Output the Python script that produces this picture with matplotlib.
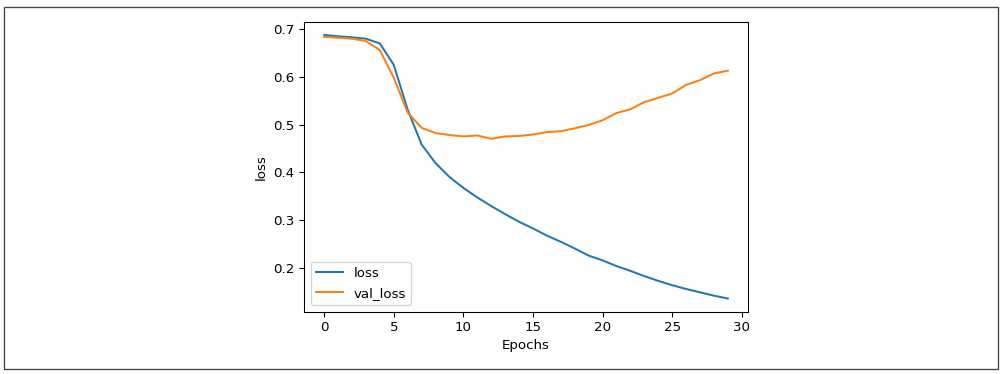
import numpy as np
import matplotlib
matplotlib.use("Agg")
import matplotlib.pyplot as plt
from matplotlib.patches import Rectangle

epochs = np.arange(30)
loss = [0.688, 0.685, 0.683, 0.680, 0.670, 0.625, 0.531, 0.458, 0.419, 0.390,
        0.367, 0.347, 0.329, 0.312, 0.296, 0.282, 0.267, 0.254, 0.240, 0.225,
        0.215, 0.203, 0.193, 0.182, 0.172, 0.163, 0.155, 0.148, 0.141, 0.135]
val_loss = [0.684, 0.682, 0.680, 0.675, 0.656, 0.598, 0.525, 0.493, 0.482, 0.478,
            0.475, 0.477, 0.470, 0.475, 0.476, 0.479, 0.484, 0.486, 0.492, 0.499,
            0.509, 0.524, 0.532, 0.547, 0.556, 0.565, 0.583, 0.593, 0.607, 0.613]

DPI = 96


def main() -> None:
    fig = plt.figure(figsize=(1004 / DPI, 374 / DPI), dpi=DPI)
    ax = fig.add_axes([304 / 1004, 1 - 311.7 / 374, 444 / 1004, 290 / 374])

    ax.plot(epochs, loss, label="loss")
    ax.plot(epochs, val_loss, label="val_loss")
    ax.set_xlabel("Epochs")
    ax.set_ylabel("loss")
    ax.legend(loc="lower left")

    # cadre autour de la figure
    fig.patches.append(Rectangle((4 / 1004, 1 - 369 / 374), 994 / 1004, 362 / 374,
                                 transform=fig.transFigure, fill=False,
                                 edgecolor="#444444", linewidth=1.0))

    fig.savefig("out.png", dpi=DPI)


if __name__ == "__main__":
    main()
